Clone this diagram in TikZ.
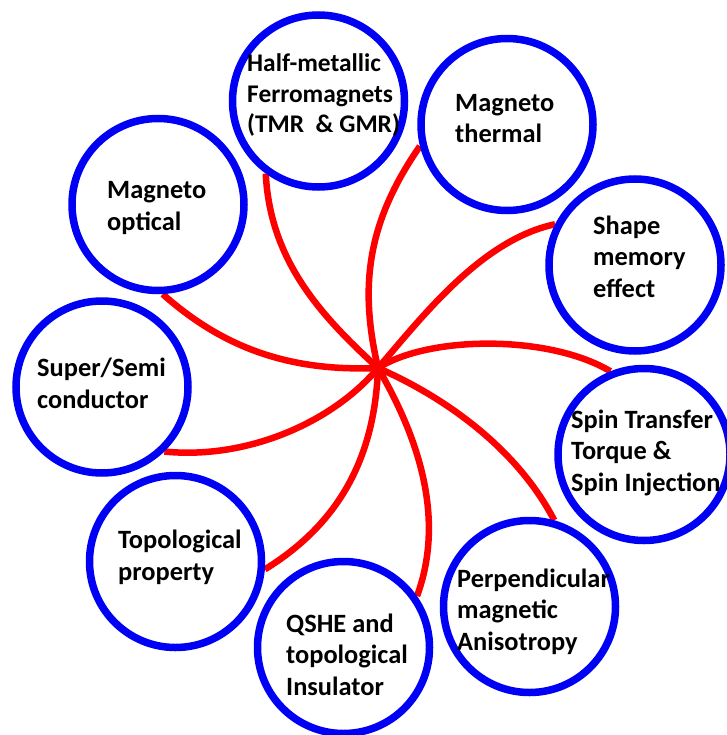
\documentclass[tikz,border=0pt]{standalone}
\usepackage{fontspec}
\setmainfont{Carlito}
\usetikzlibrary{backgrounds}
\definecolor{ringblue}{RGB}{0,0,245}
\definecolor{linkred}{RGB}{255,0,0}
\begin{document}
\begin{tikzpicture}[x=1pt,y=-1pt,
  ring/.style={circle, draw=ringblue, line width=7.5pt, minimum size=172pt, inner sep=0pt},
  lbl/.style={font=\bfseries\fontsize{26.4}{31.5}\selectfont, align=left, inner sep=0pt, anchor=base west},
  lblsmall/.style={lbl, font=\bfseries\fontsize{25.4}{30.5}\selectfont},
  link/.style={draw=linkred, line width=6.5pt}]
\useasboundingbox (0,0) rectangle (726,735);
% circles
\node[ring] (hm) at (318.5,101) {};
\node[ring] (th) at (507,124.5) {};
\node[ring] (op) at (158,204.5) {};
\node[ring] (sh) at (635,265) {};
\node[ring] (su) at (102,387) {};
\node[ring] (sp) at (644,454.5) {};
\node[ring] (tp) at (175.5,561.5) {};
\node[ring] (pe) at (529.5,606.5) {};
\node[ring] (qs) at (343.5,647.5) {};
\coordinate (hub) at (378,368);
% labels (anchored at the baseline of the last line)
\node[lblsmall] (thm) at (247,133) {Half-metallic\\Ferromagnets\\(TMR~~\& GMR)};
\node[lbl] (tth) at (455,143) {Magneto\\thermal};
\node[lbl] (top) at (107,230) {Magneto\\optical};
\node[lbl] (tsh) at (593,297) {Shape\\memory\\effect};
\node[lbl] (tsu) at (37,408) {Super/Semi\\conductor};
\node[lbl] (tsp) at (571,491) {Spin Transfer\\Torque \&\\Spin Injection};
\node[lbl] (ttp) at (118,580) {Topological\\property};
\node[lbl] (tpe) at (457,650) {Perpendicular\\magnetic\\Anisotropy};
\node[lbl] (tqs) at (286,695) {QSHE and\\topological\\Insulator};
% connectors
\begin{pgfonlayer}{background}
\draw[link] (hub) .. controls (320,315) and (270,260) .. (hm.234);
\draw[link] (hub) .. controls (360,290) and (365,225) .. (th.194);
\draw[link] (hub) .. controls (285,372) and (220,345) .. (op.273);
\draw[link] (hub) .. controls (420,320) and (480,240) .. (sh.153);
\draw[link] (hub) .. controls (430,335) and (550,335) .. (sp.112);
\draw[link] (hub) .. controls (440,395) and (515,445) .. (pe.74);
\draw[link] (hub) .. controls (420,440) and (445,520) .. (qs.35);
\draw[link] (hub) .. controls (375,450) and (345,520) .. (tp.355);
\draw[link] (hub) .. controls (335,420) and (250,460) .. (su.314);
\end{pgfonlayer}
\end{tikzpicture}
\end{document}
